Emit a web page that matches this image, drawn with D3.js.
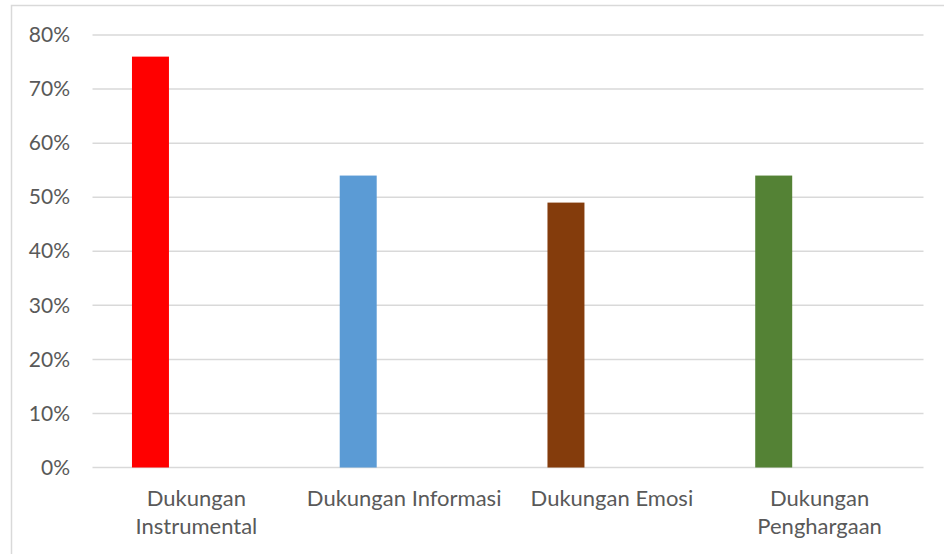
<!DOCTYPE html>
<html>
<head>
<meta charset="utf-8">
<script src="https://cdn.jsdelivr.net/npm/d3@7"></script>
<style>
  html, body { margin: 0; padding: 0; background: #fff; }
  svg { display: block; }
  text { font-family: Lato, "Open Sans", sans-serif; fill: #595959; }
</style>
</head>
<body>
<svg id="chart" width="944" height="554"></svg>
<script>
// Categories, values and tick labels
const categories = ["Dukungan Instrumental", "Dukungan Informasi", "Dukungan Emosi", "Dukungan Penghargaan"];
const categoryLines = [["Dukungan", "Instrumental"], ["Dukungan Informasi"], ["Dukungan Emosi"], ["Dukungan", "Penghargaan"]];
const values = [0.76, 0.54, 0.49, 0.54];
const barColors = ["#FF0000", "#5B9BD5", "#843C0C", "#548235"];
const yTicks = [0, 0.1, 0.2, 0.3, 0.4, 0.5, 0.6, 0.7, 0.8];

const svg = d3.select("#chart");
const W = 944, H = 554;
const plot = { left: 92.5, right: 923.5, top: 35, bottom: 467.5 };

// Chart frame
svg.append("rect")
  .attr("x", 11.5).attr("y", 5.5)
  .attr("width", W + 20).attr("height", H + 20)
  .attr("fill", "#fff").attr("stroke", "#D9D9D9").attr("stroke-width", 1.5);

const x = d3.scaleBand().domain(categories).range([plot.left, plot.right]).padding(0);
const y = d3.scaleLinear().domain([0, 0.8]).range([plot.bottom, plot.top]);

// Gridlines
svg.append("g").selectAll("line").data(yTicks).join("line")
  .attr("x1", plot.left).attr("x2", plot.right)
  .attr("y1", d => y(d)).attr("y2", d => y(d))
  .attr("stroke", "#D9D9D9").attr("stroke-width", 1.5);

// Y axis labels
const yAxis = d3.axisLeft(y).tickValues(yTicks).tickFormat(d3.format(".0%")).tickSize(0).tickPadding(0);
const yg = svg.append("g").attr("transform", `translate(70,0)`).call(yAxis);
yg.select(".domain").remove();
yg.selectAll("text").attr("font-size", 21).attr("fill", "#595959")
  .style("font-family", "Lato, 'Open Sans', sans-serif");

// Bars, offset within each category band
const bw = x.bandwidth();
svg.append("g").selectAll("rect").data(categories).join("rect")
  .attr("x", d => x(d) + bw * 0.19)
  .attr("width", bw * 0.178)
  .attr("y", (d, i) => y(values[i]))
  .attr("height", (d, i) => y(0) - y(values[i]))
  .attr("fill", (d, i) => barColors[i]);

// Category labels
const cg = svg.append("g");
categories.forEach((c, i) => {
  const t = cg.append("text")
    .attr("x", x(c) + bw / 2)
    .attr("y", 506)
    .attr("text-anchor", "middle")
    .attr("font-size", 22);
  categoryLines[i].forEach((line, j) => {
    t.append("tspan").attr("x", x(c) + bw / 2).attr("dy", j === 0 ? 0 : 28).text(line);
  });
});
</script>
</body>
</html>
